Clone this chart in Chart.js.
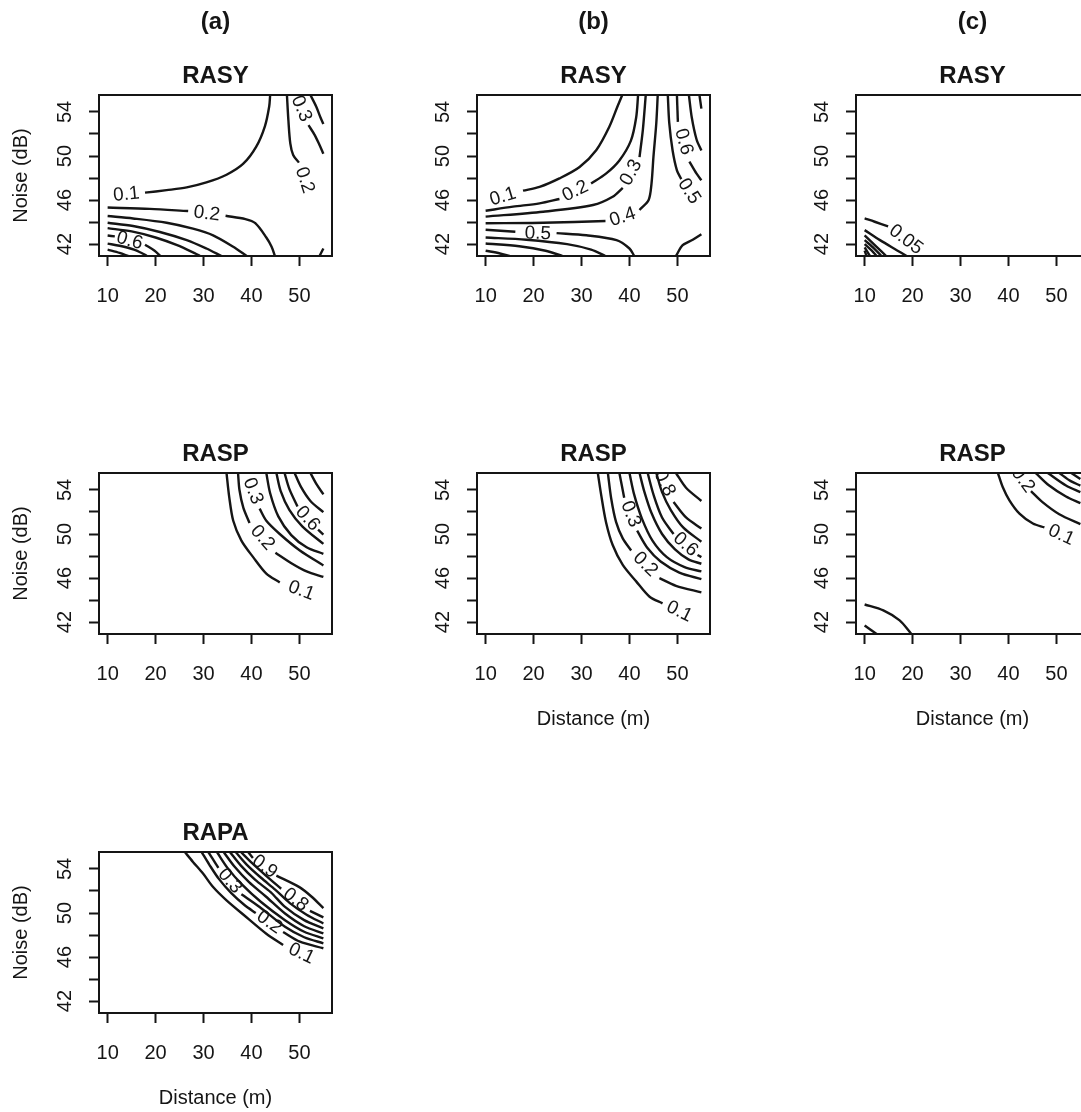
<!DOCTYPE html>
<html>
<head>
<meta charset="utf-8">
<script src="https://cdn.jsdelivr.net/npm/chart.js@4.4.0/dist/chart.umd.min.js"></script>
<style>
  html, body { margin: 0; padding: 0; background: #fff; overflow: hidden; width: 1081px; height: 1112px; }
  .panel { position: absolute; width: 378px; height: 378px; }
</style>
</head>
<body>
<div class="panel" style="left:0;top:0"><canvas id="p1" width="378" height="378"></canvas></div>
<div class="panel" style="left:378px;top:0"><canvas id="p2" width="378" height="378"></canvas></div>
<div class="panel" style="left:757px;top:0"><canvas id="p3" width="378" height="378"></canvas></div>
<div class="panel" style="left:0;top:378px"><canvas id="p4" width="378" height="378"></canvas></div>
<div class="panel" style="left:378px;top:378px"><canvas id="p5" width="378" height="378"></canvas></div>
<div class="panel" style="left:757px;top:378px"><canvas id="p6" width="378" height="378"></canvas></div>
<div class="panel" style="left:0;top:757px"><canvas id="p7" width="378" height="378"></canvas></div>
<script>
// axes
const xTicks = [10, 20, 30, 40, 50];
const yTicks = [42, 44, 46, 48, 50, 52, 54];
const yTickLabels = [42, 46, 50, 54];
const xRange = [8.2, 56.8];
const yRange = [40.92, 55.54];
const xName = "Distance (m)";
const yName = "Noise (dB)";

// contour lines: [distance, noise]; null = gap where the label sits
const rasyA = [
  { z: "0.1", at: [13.9, 46.5], pts: [[17.8,46.67],[22.3,46.9],[26.5,47.15],[30.6,47.6],[34.8,48.3],[38.3,49.3],[41.0,50.85],[42.8,52.7],[43.7,54.5],[43.9,55.54]] },
  { z: "0.2", at: [30.7, 44.75], pts: [[10,45.32],[18.8,45.2],[26.8,45.0],null,[34.6,44.57],[38.75,44.27],[40.8,43.9],[43.1,42.6],[44.2,41.76],[44.9,40.92]] },
  { z: "0.3", pts: [[10,44.55],[15.3,44.33],[22.3,43.94],[27.8,43.4],[32.0,42.8],[36.2,41.76],[39.0,40.92]] },
  { z: "0.4", pts: [[10,43.94],[15.3,43.64],[20.9,43.1],[26.5,42.36],[30.6,41.6],[33.75,40.92]] },
  { z: "0.5", pts: [[10,43.45],[15,43.15],[20,42.6],[24.5,41.9],[28.5,41.1],[29.3,40.92]] },
  { z: "0.6", at: [14.6, 42.3], pts: [[10,42.78],[11.5,42.7],null,[17.8,41.95],[19.8,41.4],[21.0,40.92]] },
  { z: "0.7", pts: [[10,42.05],[12.5,41.85],[15.5,41.5],[17.5,41.1],[18.2,40.92]] },
  { z: "0.8", pts: [[10,41.5],[12.5,41.2],[14.3,40.92]] },
  { z: "0.2", at: [51.1, 47.8], pts: [[47.4,55.54],[47.7,53.27],[48.1,51.15],[48.7,50.1],[49.9,49.4]] },
  { z: "0.3", at: [50.4, 54.3], pts: [[51.9,52.8],[53.2,51.9],[54.2,51.0],[55,50.2]] },
  { z: "0.4", pts: [[52.3,55.54],[53.5,54.5],[54.4,53.5],[55,52.9]] },
  { z: "0.2", pts: [[54.2,40.92],[55,41.6]] }
];

const rasyB = [
  { z: "0.1", at: [13.6, 46.3], pts: [[17.8,46.85],[21.25,47.2],[25.4,47.97],[29.6,49.0],[33.1,50.55],[35.8,52.66],[37.5,54.5],[38.5,55.54]] },
  { z: "0.2", at: [28.7, 46.8], pts: [[10,45.03],[15.7,45.4],[21.25,45.7],[25.4,46.1],null,[32.0,47.5],[35.1,48.4],[37.9,49.6],[40.3,51.4],[41.4,53.5],[41.8,55.54]] },
  { z: "0.3", at: [40.35, 48.5], pts: [[10,44.5],[22,44.94],[32.4,45.55],[36.5,46.3],[38.6,47.1],null,[42.1,49.9],[42.8,52.4],[43.4,55.54]] },
  { z: "0.4", at: [38.6, 44.45], pts: [[10,43.9],[22,43.94],[35.0,44.1],null,[42.1,45.1],[44.0,46.0],[44.6,47.5],[45.0,49.9],[45.6,53.0],[45.9,55.54]] },
  { z: "0.5", at: [20.9, 42.95], pts: [[10,43.3],[16.2,43.12],null,[24.8,43.0],[31.0,42.8],[37.3,42.36],[40.0,41.6],[41.0,40.92]] },
  { z: "0.6", pts: [[10,42.6],[18.5,42.4],[27,42.0],[32,41.5],[35,40.92]] },
  { z: "0.7", pts: [[10,42.06],[17,41.8],[22.5,41.4],[26,40.92]] },
  { z: "0.8", pts: [[10,41.4],[13,41.15],[15,40.92]] },
  { z: "0.5", at: [52.4, 46.8], pts: [[48.0,55.54],[48.3,53.0],[49.0,50.5],[49.9,48.7],[50.8,47.9]] },
  { z: "0.6", at: [51.3, 51.3], pts: [[49.9,55.54],[50.1,53.1],null,[52.5,49.5],[54.0,48.4],[55,47.8]] },
  { z: "0.7", pts: [[52.4,55.54],[53.0,53.5],[54.0,51.5],[55,50.5]] },
  { z: "0.8", pts: [[54.6,55.54],[55,54.3]] },
  { z: "0.5", pts: [[49.7,40.92],[51.1,41.9],[53.2,42.4],[55,42.9]] }
];

const rasyC = [
  { z: "0.05", at: [18.6, 42.4], pts: [[10,44.33],[12.1,44.03],[14.9,43.6]] },
  { z: "0.1", pts: [[10,43.27],[13.2,42.36],[16.7,41.45],[18.75,40.92]] },
  { z: "0.15", pts: [[10,42.8],[12.5,41.75],[14.5,40.92]] },
  { z: "0.2", pts: [[10,42.36],[12,41.6],[13.5,40.92]] },
  { z: "0.25", pts: [[10,42.0],[11.5,41.4],[12.5,40.92]] },
  { z: "0.3", pts: [[10,41.7],[11.1,40.92]] },
  { z: "0.35", pts: [[10,41.4],[10.4,40.92]] }
];

const raspA = [
  { z: "0.1", at: [50.4, 44.85], pts: [[34.8,55.54],[35.35,53.4],[36.2,51.2],[37.9,49.4],[40.35,47.9],[43.1,46.4],[45.9,45.6]] },
  { z: "0.2", at: [42.3, 49.65], pts: [[37.2,55.54],[37.5,54.0],[38.3,52.4],[39.6,51.0],null,[45.0,48.3],[48.5,47.3],[51.5,46.6],[55,46.1]] },
  { z: "0.3", at: [40.3, 53.9], pts: [[41.7,52.3],[43.1,51.2],[45.9,50.0],[50.1,48.5],[55,47.15]] },
  { z: "0.4", pts: [[43.1,55.54],[43.9,53.7],[45.6,51.6],[48.3,49.9],[51.5,48.8],[55,48.2]] },
  { z: "0.5", pts: [[45.2,55.54],[46.1,53.9],[47.9,52.2],[50.6,50.7],[55,49.1]] },
  { z: "0.6", at: [51.7, 51.4], pts: [[46.9,55.54],[47.9,54.1],[49.6,52.5],null,[53.9,50.4],[55,49.95]] },
  { z: "0.7", pts: [[49.0,55.54],[50.3,54.3],[52.3,53.0],[55,51.98]] },
  { z: "0.8", pts: [[52.3,55.54],[53.6,54.5],[55,53.6]] }
];

const raspB = [
  { z: "0.1", at: [50.4, 42.95], pts: [[33.4,55.54],[34.1,53.55],[35.1,51.1],[36.5,49.0],[38.6,47.2],[41.4,45.7],[44.2,44.3],[46.9,43.7]] },
  { z: "0.2", at: [43.3, 47.25], pts: [[35.5,55.54],[36.2,53.2],[37.2,51.1],[38.6,49.6],[40.35,48.5],null,[46.25,46.0],[49.7,45.3],[55,44.7]] },
  { z: "0.3", at: [40.25, 51.8], pts: [[37.9,55.54],[38.9,53.3],null,[41.6,50.3],[43.8,48.7],[46.5,47.5],[50.4,46.5],[55,45.9]] },
  { z: "0.4", pts: [[40.0,55.54],[41.0,53.55],[42.6,51.4],[44.8,49.4],[47.8,47.9],[51.5,47.0],[55,46.6]] },
  { z: "0.5", pts: [[42.1,55.54],[43.1,53.85],[44.6,51.9],[46.8,50.0],[49.5,48.6],[52.3,47.7],[55,47.3]] },
  { z: "0.6", at: [51.7, 49.05], pts: [[43.8,55.54],[45.0,53.6],[46.8,51.5],[49.2,50.0],null,[54.2,48.1],[55,47.9]] },
  { z: "0.7", pts: [[45.6,55.54],[46.8,53.8],[48.6,52.2],[51.2,50.6],[55,49.3]] },
  { z: "0.8", at: [47.3, 54.6], pts: [[49.2,52.9],[51.8,51.5],[55,50.5]] },
  { z: "0.9", pts: [[49.7,55.54],[51.8,54.2],[55,53.0]] }
];

const raspC = [
  { z: "0.1", at: [51.0, 49.9], pts: [[37.8,55.54],[38.8,54.27],[40.2,53.06],[42.3,51.85],[45.1,50.95],[47.5,50.6]] },
  { z: "0.2", at: [43.0, 54.9], pts: [[44.7,53.9],[47.1,52.9],[50.6,51.8],[55,50.9]] },
  { z: "0.3", pts: [[45.7,55.54],[48.5,54.4],[52.0,53.4],[55,52.8]] },
  { z: "0.4", pts: [[48.2,55.54],[52.0,54.4],[55,53.8]] },
  { z: "0.5", pts: [[50.6,55.54],[53.0,54.8],[55,54.4]] },
  { z: "0.6", pts: [[53.1,55.54],[55,55.0]] },
  { z: "0.1", pts: [[10,43.6],[13.9,43.06],[17.3,42.15],[19.75,40.92]] },
  { z: "0.2", pts: [[10,41.7],[12.5,40.92]] }
];

const rapaA = [
  { z: "0.1", at: [50.4, 46.3], pts: [[26.1,55.54],[27.8,54.64],[29.9,53.58],[32.0,52.36],[34.8,51.15],[38.9,49.64],[43.1,48.12],[46.6,47.1]] },
  { z: "0.2", at: [43.75, 49.15], pts: [[29.6,55.54],[31.2,54.4],[33.2,53.1],[35.8,51.8],[38.6,50.7],[40.9,50.0],null,[46.6,48.27],[50.1,47.4],[55,46.8]] },
  { z: "0.3", at: [35.5, 52.9], pts: [[31.0,55.54],[33.1,54.1],null,[37.9,51.7],[41.7,50.55],[47.0,48.75],[51.0,47.8],[55,47.25]] },
  { z: "0.4", pts: [[32.8,55.54],[35.0,54.1],[38.0,52.6],[42.0,51.0],[47.0,49.35],[51.0,48.3],[55,47.7]] },
  { z: "0.5", pts: [[34.2,55.54],[36.5,54.2],[39.5,52.8],[43.0,51.5],[47.0,49.95],[51.0,48.8],[55,48.15]] },
  { z: "0.6", pts: [[35.5,55.54],[37.8,54.3],[40.8,53.0],[44.0,51.9],[47.0,50.55],[51.0,49.35],[55,48.6]] },
  { z: "0.7", pts: [[36.7,55.54],[39.0,54.4],[42.0,53.2],[45.0,52.1],[48.0,50.9],[51.5,49.85],[55,49.05]] },
  { z: "0.8", at: [49.2, 51.2], pts: [[37.8,55.54],[40.2,54.5],[43.0,53.4],[46.2,52.2],null,[52.2,50.2],[55,49.6]] },
  { z: "0.9", at: [42.75, 54.2], pts: [[39.3,55.54],[40.3,55.0],null,[45.2,53.4],[50.0,52.35],[52.5,51.5],[55,50.45]] }
];

const INK = "#151515";
const FONT = '"Liberation Sans", Arial, Helvetica, sans-serif';

const panels = [
  { id: "p1", title: "RASY", tag: "(a)", noise: true,  dist: false, lines: rasyA },
  { id: "p2", title: "RASY", tag: "(b)", noise: false, dist: false, lines: rasyB },
  { id: "p3", title: "RASY", tag: "(c)", noise: false, dist: false, lines: rasyC },
  { id: "p4", title: "RASP", tag: "",    noise: true,  dist: false, lines: raspA },
  { id: "p5", title: "RASP", tag: "",    noise: false, dist: true,  lines: raspB },
  { id: "p6", title: "RASP", tag: "",    noise: false, dist: true,  lines: raspC },
  { id: "p7", title: "RAPA", tag: "",    noise: true,  dist: true,  lines: rapaA }
];

// split a contour at its null gaps
function segmentsOf(pts) {
  const out = [[]];
  pts.forEach(p => p ? out[out.length - 1].push({ x: p[0], y: p[1] }) : out.push([]));
  return out.filter(s => s.length > 1);
}

// label follows the direction of the line around it (like R's contour labels)
function labelAngle(c, sx, sy) {
  const P = p => [sx.getPixelForValue(p[0]), sy.getPixelForValue(p[1])];
  const L = P(c.at);
  const gap = c.pts.indexOf(null);
  let a, b;
  if (gap > 0) {
    a = P(c.pts[gap - 1]); b = P(c.pts[gap + 1]);
  } else {
    const first = P(c.pts[0]), last = P(c.pts[c.pts.length - 1]);
    if (Math.hypot(first[0] - L[0], first[1] - L[1]) < Math.hypot(last[0] - L[0], last[1] - L[1])) {
      a = L; b = first;
    } else {
      a = last; b = L;
    }
  }
  let ang = Math.atan2(b[1] - a[1], b[0] - a[0]);
  if (ang > Math.PI / 2) ang -= Math.PI;
  if (ang < -Math.PI / 2) ang += Math.PI;
  return ang;
}

function makeDecor(p) {
  return {
    id: "decor",
    afterDraw(chart) {
      const { ctx, chartArea: a, scales: { x, y } } = chart;
      const cx = (a.left + a.right) / 2;
      ctx.save();
      ctx.strokeStyle = INK;
      ctx.lineWidth = 2;
      ctx.strokeRect(a.left, a.top, a.right - a.left, a.bottom - a.top);

      ctx.fillStyle = INK;
      ctx.textAlign = "center";
      ctx.textBaseline = "middle";
      ctx.font = `20px ${FONT}`;
      yTickLabels.forEach(v => {
        ctx.save();
        ctx.translate(a.left - 34, y.getPixelForValue(v));
        ctx.rotate(-Math.PI / 2);
        ctx.fillText(String(v), 0, 0);
        ctx.restore();
      });
      if (p.noise) {
        ctx.save();
        ctx.translate(21, (a.top + a.bottom) / 2);
        ctx.rotate(-Math.PI / 2);
        ctx.fillText(yName, 0, 0);
        ctx.restore();
      }
      if (p.dist) ctx.fillText(xName, cx, 341);

      ctx.font = `bold 24px ${FONT}`;
      ctx.fillText(p.title, cx, a.top - 19);
      if (p.tag) ctx.fillText(p.tag, cx, 22);

      // contour labels, clipped to the plot region
      ctx.beginPath();
      ctx.rect(a.left, a.top, a.right - a.left, a.bottom - a.top);
      ctx.clip();
      ctx.font = `19px ${FONT}`;
      p.lines.filter(c => c.at).forEach(c => {
        ctx.save();
        ctx.translate(x.getPixelForValue(c.at[0]), y.getPixelForValue(c.at[1]));
        ctx.rotate(labelAngle(c, x, y));
        ctx.fillText(c.z, 0, 0);
        ctx.restore();
      });
      ctx.restore();
    }
  };
}

const tickGrid = { display: true, drawOnChartArea: false, drawTicks: true, tickLength: 10, tickWidth: 2, tickColor: INK };

panels.forEach(p => {
  const datasets = p.lines.flatMap(c => segmentsOf(c.pts).map(seg => ({
    data: seg,
    showLine: true,
    pointRadius: 0,
    borderColor: INK,
    borderWidth: 2.4,
    tension: 0.3
  })));

  new Chart(document.getElementById(p.id), {
    type: "scatter",
    data: { datasets },
    options: {
      responsive: false,
      animation: false,
      layout: { padding: { left: 0, top: 95, right: 46, bottom: 0 } },
      plugins: { legend: { display: false }, tooltip: { enabled: false } },
      scales: {
        x: {
          type: "linear",
          min: xRange[0],
          max: xRange[1],
          afterBuildTicks: s => { s.ticks = xTicks.map(v => ({ value: v })); },
          afterFit: s => { s.height = 122; },
          grid: tickGrid,
          border: { display: true, color: INK, width: 2 },
          ticks: { color: INK, font: { size: 20, family: FONT }, padding: 18, maxRotation: 0, autoSkip: false }
        },
        y: {
          type: "linear",
          min: yRange[0],
          max: yRange[1],
          afterBuildTicks: s => { s.ticks = yTicks.map(v => ({ value: v })); },
          afterFit: s => { s.width = 99; },
          grid: tickGrid,
          border: { display: true, color: INK, width: 2 },
          ticks: { display: false }
        }
      }
    },
    plugins: [makeDecor(p)]
  });
});
</script>
</body>
</html>
